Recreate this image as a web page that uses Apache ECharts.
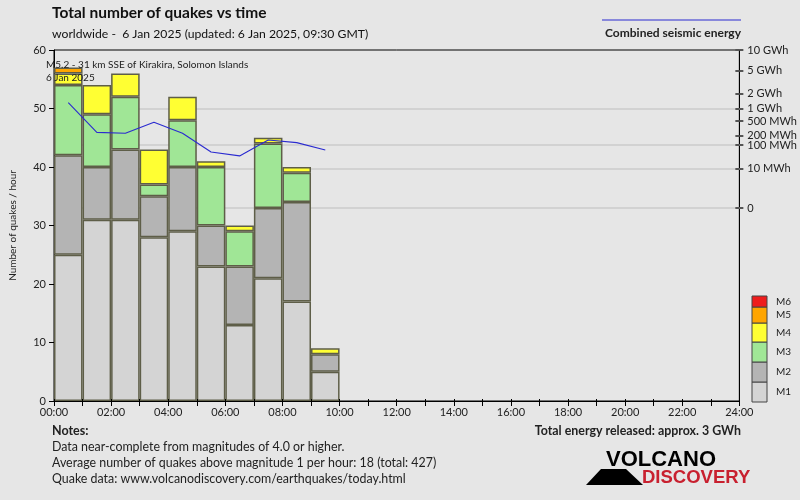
<!DOCTYPE html>
<html><head><meta charset="utf-8">
<script src="https://cdn.jsdelivr.net/npm/echarts@6/dist/echarts.min.js"></script>
<style>html,body{margin:0;padding:0;background:#e6e6e6}#c{width:800px;height:500px}</style>
</head><body><div id="c"></div>
<script>
// ---- data ----
const hours = ['00:00','01:00','02:00','03:00','04:00','05:00','06:00','07:00','08:00','09:00','10:00','11:00',
  '12:00','13:00','14:00','15:00','16:00','17:00','18:00','19:00','20:00','21:00','22:00','23:00'];
const magNames = ['M1','M2','M3','M4','M5','M6'];
const m1 = [25,31,31,28,29,23,13,21,17,5];
const m2 = [17,9,12,7,11,7,10,12,17,3];
const m3 = [12,9,9,2,8,10,6,11,5,0];
const m4 = [2,5,4,6,4,1,1,1,1,1];
const m5 = [1,0,0,0,0,0,0,0,0,0];
const m6 = [0,0,0,0,0,0,0,0,0,0];
const energyMWh = [1319,252,236,470,236,56,39,148,121,67];
const energyTickMWh = [10000,5000,2000,1000,500,200,100,10,0];
const energyTickLabels = ['10 GWh','5 GWh','2 GWh','1 GWh','500 MWh','200 MWh','100 MWh','10 MWh','0'];
const energyGridMWh = [1000,100,10,0];

// ---- styling ----
const FONT = 'Lato, "Open Sans", "Noto Sans", sans-serif';
const magColors = ['#d4d4d4','#b4b4b4','#a0e696','#ffff33','#ffa500','#ee1c1c'];
const magData = [m1,m2,m3,m4,m5,m6];
const tf = e => Math.pow(e / 10000, 0.2);   // energy scale (fifth root)
const E_MIN = -1.2215;

const chart = echarts.init(document.getElementById('c'));

const barSeries = magData.map((d, i) => ({
  type: 'bar', name: magNames[i], stack: 'q', xAxisIndex: 0, yAxisIndex: 0,
  barCategoryGap: '0%', barGap: '0%', silent: true, z: 5,
  itemStyle: { color: magColors[i], borderColor: '#5e5e48', borderWidth: 1.5 },
  data: d.map(v => v === 0 ? null : v)
}));

// magnitude legend boxes
const legendH = [20,20,20,19,16,11];
const legendEls = [];
let yb = 402;
for (let i = 0; i < 6; i++) {
  const h = legendH[i];
  legendEls.push({ type: 'rect', shape: { x: 752, y: yb - h, width: 15, height: h },
    style: { fill: magColors[i], stroke: '#444', lineWidth: 1 } });
  legendEls.push({ type: 'text', x: 776, y: yb - h / 2,
    style: { text: magNames[i], font: '10px ' + FONT, fill: '#222', textVerticalAlign: 'middle' } });
  yb -= h;
}

const hourLabel = v => (v % 2 === 0) ? (v < 10 ? '0' + v : '' + v) + ':00' : '';
const energyLabel = v => { let bi = 0, bd = 1e9; energyTickMWh.forEach((e, i) => { const d = Math.abs(tf(e) - v); if (d < bd) { bd = d; bi = i; } }); return energyTickLabels[bi]; };

const option = {
  backgroundColor: '#e6e6e6',
  animation: false,
  textStyle: { fontFamily: FONT },
  grid: { left: 52, right: 59, top: 50, bottom: 99, show: true, borderColor: '#000', borderWidth: 1, backgroundColor: 'transparent' },
  xAxis: [
    { type: 'category', data: hours, show: false, boundaryGap: true, axisLine: { onZero: false } },
    { type: 'value', min: 0, max: 24, interval: 1, position: 'bottom',
      axisLine: { onZero: false, lineStyle: { color: '#000', width: 1 } },
      axisTick: { length: 5, lineStyle: { color: '#000' } },
      splitLine: { show: false },
      axisLabel: { color: '#222', fontSize: 11, fontFamily: FONT, margin: 6, formatter: hourLabel } },
    { type: 'value', min: 0, max: 24, interval: 1, position: 'bottom', z: 20,
      axisLine: { show: false, onZero: false }, axisLabel: { show: false }, splitLine: { show: false },
      axisTick: { show: true, inside: true, length: 2, lineStyle: { color: '#000' } } }
  ],
  yAxis: [
    { type: 'value', min: 0, max: 60, interval: 10, position: 'left',
      name: 'Number of quakes / hour', nameLocation: 'middle', nameGap: 36,
      nameTextStyle: { fontSize: 10, color: '#222', fontFamily: FONT },
      axisLine: { show: true, onZero: false, lineStyle: { color: '#000' } },
      axisTick: { show: true, length: 5, lineStyle: { color: '#000' } },
      splitLine: { show: false },
      axisLabel: { color: '#222', fontSize: 11, fontFamily: FONT, margin: 8 } },
    { type: 'value', min: E_MIN, max: 1, position: 'right',
      axisLine: { show: true, onZero: false, lineStyle: { color: '#000' } },
      axisTick: { show: true, length: 4, customValues: energyTickMWh.map(tf), lineStyle: { color: '#555', width: 2 } },
      splitLine: { show: false },
      axisLabel: { color: '#222', fontSize: 11, fontFamily: FONT, margin: 8,
        customValues: energyTickMWh.map(tf), formatter: energyLabel } },
    { type: 'value', min: E_MIN, max: 1, position: 'right', z: 20,
      axisLine: { show: false, onZero: false }, axisLabel: { show: false }, splitLine: { show: false },
      axisTick: { show: true, inside: true, length: 4, customValues: energyTickMWh.map(tf), lineStyle: { color: '#555', width: 2 } } }
  ],
  series: [
    { type: 'line', xAxisIndex: 0, yAxisIndex: 1, data: [], z: 1, silent: true,
      markLine: { silent: true, symbol: 'none', label: { show: false }, animation: false, z: 1,
        lineStyle: { color: '#d2d2d2', width: 2, type: 'solid' },
        data: energyGridMWh.map(e => ({ yAxis: tf(e) })) } },
    ...barSeries,
    { type: 'line', name: 'Combined seismic energy', xAxisIndex: 0, yAxisIndex: 1, z: 10, silent: true,
      data: energyMWh.map(tf), symbol: 'none', lineStyle: { color: '#2b2bd0', width: 1.1 } }
  ],
  graphic: [
    { type: 'text', x: 52, y: 13, style: { text: 'Total number of quakes vs time', font: 'bold 15.5px ' + FONT, fill: '#111', textVerticalAlign: 'middle' } },
    { type: 'text', x: 52, y: 34, style: { text: 'worldwide -  6 Jan 2025 (updated: 6 Jan 2025, 09:30 GMT)', font: '12.2px ' + FONT, fill: '#111', textVerticalAlign: 'middle' } },
    { type: 'line', shape: { x1: 602, y1: 20, x2: 741, y2: 20 }, style: { stroke: '#2b2bd0', lineWidth: 1 } },
    { type: 'text', x: 741, y: 33, style: { text: 'Combined seismic energy', font: 'bold 12px ' + FONT, fill: '#222', textAlign: 'right', textVerticalAlign: 'middle' } },
    { type: 'text', x: 46, y: 65, z: 20, style: { text: 'M5.2 - 31 km SSE of Kirakira, Solomon Islands', font: '10px ' + FONT, fill: '#222', textVerticalAlign: 'middle' } },
    { type: 'text', x: 46, y: 78, z: 20, style: { text: '6 Jan 2025', font: '10px ' + FONT, fill: '#222', textVerticalAlign: 'middle' } },
    ...legendEls,
    { type: 'text', x: 52, y: 431, style: { text: 'Notes:', font: 'bold 12.5px ' + FONT, fill: '#222', textVerticalAlign: 'middle' } },
    { type: 'text', x: 52, y: 447, style: { text: 'Data near-complete from magnitudes of 4.0 or higher.', font: '12.4px ' + FONT, fill: '#222', textVerticalAlign: 'middle' } },
    { type: 'text', x: 52, y: 463, style: { text: 'Average number of quakes above magnitude 1 per hour: 18 (total: 427)', font: '12.4px ' + FONT, fill: '#222', textVerticalAlign: 'middle' } },
    { type: 'text', x: 52, y: 479, style: { text: 'Quake data: www.volcanodiscovery.com/earthquakes/today.html', font: '12.4px ' + FONT, fill: '#222', textVerticalAlign: 'middle' } },
    { type: 'text', x: 741, y: 431, style: { text: 'Total energy released: approx. 3 GWh', font: 'bold 12.4px ' + FONT, fill: '#222', textAlign: 'right', textVerticalAlign: 'middle' } },
    // logo
    { type: 'polygon', shape: { points: [[586,485],[601,469],[626,469],[643,485]] }, style: { fill: '#000' } },
    { type: 'text', x: 606, y: 460, style: { text: 'VOLCANO', font: 'bold 22px "Liberation Sans", Arial, sans-serif', fill: '#000', textVerticalAlign: 'middle' } },
    { type: 'text', x: 642, y: 477.5, style: { text: 'DISCOVERY', font: 'bold 18.5px "Liberation Sans", Arial, sans-serif', fill: '#c8202f', textVerticalAlign: 'middle' } }
  ]
};
chart.setOption(option);
</script></body></html>
